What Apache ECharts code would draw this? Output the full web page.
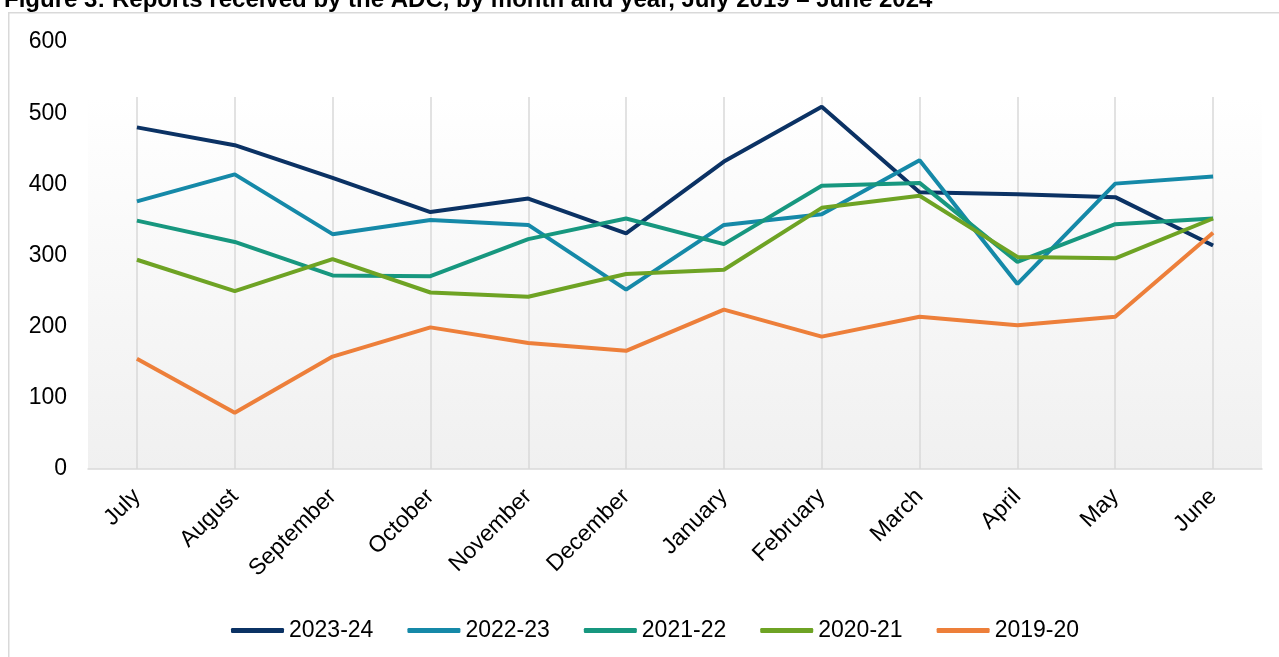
<!DOCTYPE html>
<html>
<head>
<meta charset="utf-8">
<title>Reports received by the ADC</title>
<script src="https://cdn.jsdelivr.net/npm/echarts@6/dist/echarts.min.js"></script>
<style>
  html, body { margin: 0; padding: 0; background: #fff; }
  #chart { width: 1279px; height: 657px; }
</style>
</head>
<body>
<div id="chart"></div>
<script>
// 数据：按月份
const months = ['July', 'August', 'September', 'October', 'November', 'December',
  'January', 'February', 'March', 'April', 'May', 'June']
const yearNames = ['2023-24', '2022-23', '2021-22', '2020-21', '2019-20']
const y2023 = [480, 455, 409, 361, 380, 331, 432, 509, 389, 386, 382, 314]
const y2022 = [376, 414, 330, 350, 343, 252, 343, 358, 434, 260, 401, 411]
const y2021 = [349, 319, 272, 271, 323, 352, 316, 398, 402, 291, 344, 352]
const y2020 = [294, 250, 295, 248, 242, 274, 280, 367, 384, 298, 296, 352]
const y2019 = [155, 79, 158, 199, 177, 166, 224, 186, 214, 202, 214, 332]
const yTicks = [0, 100, 200, 300, 400, 500, 600]
const colors = ['#0b3264', '#1589a8', '#17977f', '#6ea324', '#ed7f3a']

const allValues = [y2023, y2022, y2021, y2020, y2019]
const font = 'Liberation Sans, Arial, sans-serif'

const chartInstance = echarts.init(document.getElementById('chart'))

const option = {
  animation: false,
  title: {
    text: 'Figure 3: Reports received by the ADC, by month and year, July 2019 \u2013 June 2024',
    left: -1,
    top: -17,
    textStyle: {
      fontFamily: font,
      fontWeight: 'bold',
      fontSize: 24,
      color: '#000'
    }
  },
  // 外框
  graphic: [
    {
      type: 'rect',
      left: 8,
      top: 12,
      z: -10,
      shape: { width: 1300, height: 700 },
      style: { fill: '#fff', stroke: '#d9d9d9', lineWidth: 1.5 }
    }
  ],
  grid: [
    // 数据用的坐标系
    { left: 88, right: 17, top: 42, bottom: 188 },
    // 背景渐变和竖线（绘图区比坐标轴短）
    {
      left: 88,
      right: 17,
      top: 97,
      bottom: 188,
      show: true,
      borderWidth: 0,
      backgroundColor: new echarts.graphic.LinearGradient(0, 0, 0, 1, [
        { offset: 0, color: '#ffffff' },
        { offset: 1, color: '#f0f0f0' }
      ])
    }
  ],
  legend: {
    data: yearNames,
    left: 226,
    top: 614,
    icon: 'roundRect',
    itemWidth: 53,
    itemHeight: 5,
    itemGap: 34,
    textStyle: {
      fontFamily: font,
      fontSize: 23,
      color: '#000'
    }
  },
  xAxis: [
    {
      type: 'category',
      gridIndex: 0,
      data: months,
      boundaryGap: true,
      axisLine: { show: false },
      axisTick: { show: false },
      splitLine: { show: false },
      axisLabel: {
        rotate: 45,
        margin: 24,
        interval: 0,
        fontFamily: font,
        fontSize: 23,
        color: '#000'
      }
    },
    {
      type: 'category',
      gridIndex: 1,
      data: months,
      boundaryGap: true,
      axisLine: { lineStyle: { color: '#d9d9d9', width: 1.5 } },
      axisTick: { show: false },
      axisLabel: { show: false },
      splitLine: {
        show: true,
        alignWithLabel: true,
        lineStyle: { color: '#d9d9d9', width: 1.5 }
      }
    }
  ],
  yAxis: [
    {
      type: 'value',
      gridIndex: 0,
      min: yTicks[0],
      max: yTicks[yTicks.length - 1],
      interval: 100,
      axisLine: { show: false },
      axisTick: { show: false },
      splitLine: { show: false },
      axisLabel: {
        margin: 21,
        fontFamily: font,
        fontSize: 23,
        color: '#000'
      }
    },
    {
      type: 'value',
      gridIndex: 1,
      show: false,
      splitLine: { show: false }
    }
  ],
  series: yearNames.map((name, i) => ({
    name: name,
    type: 'line',
    xAxisIndex: 0,
    yAxisIndex: 0,
    data: allValues[i],
    symbol: 'none',
    color: colors[i],
    z: 3,
    lineStyle: { width: 4, color: colors[i] }
  }))
}

chartInstance.setOption(option)
</script>
</body>
</html>
